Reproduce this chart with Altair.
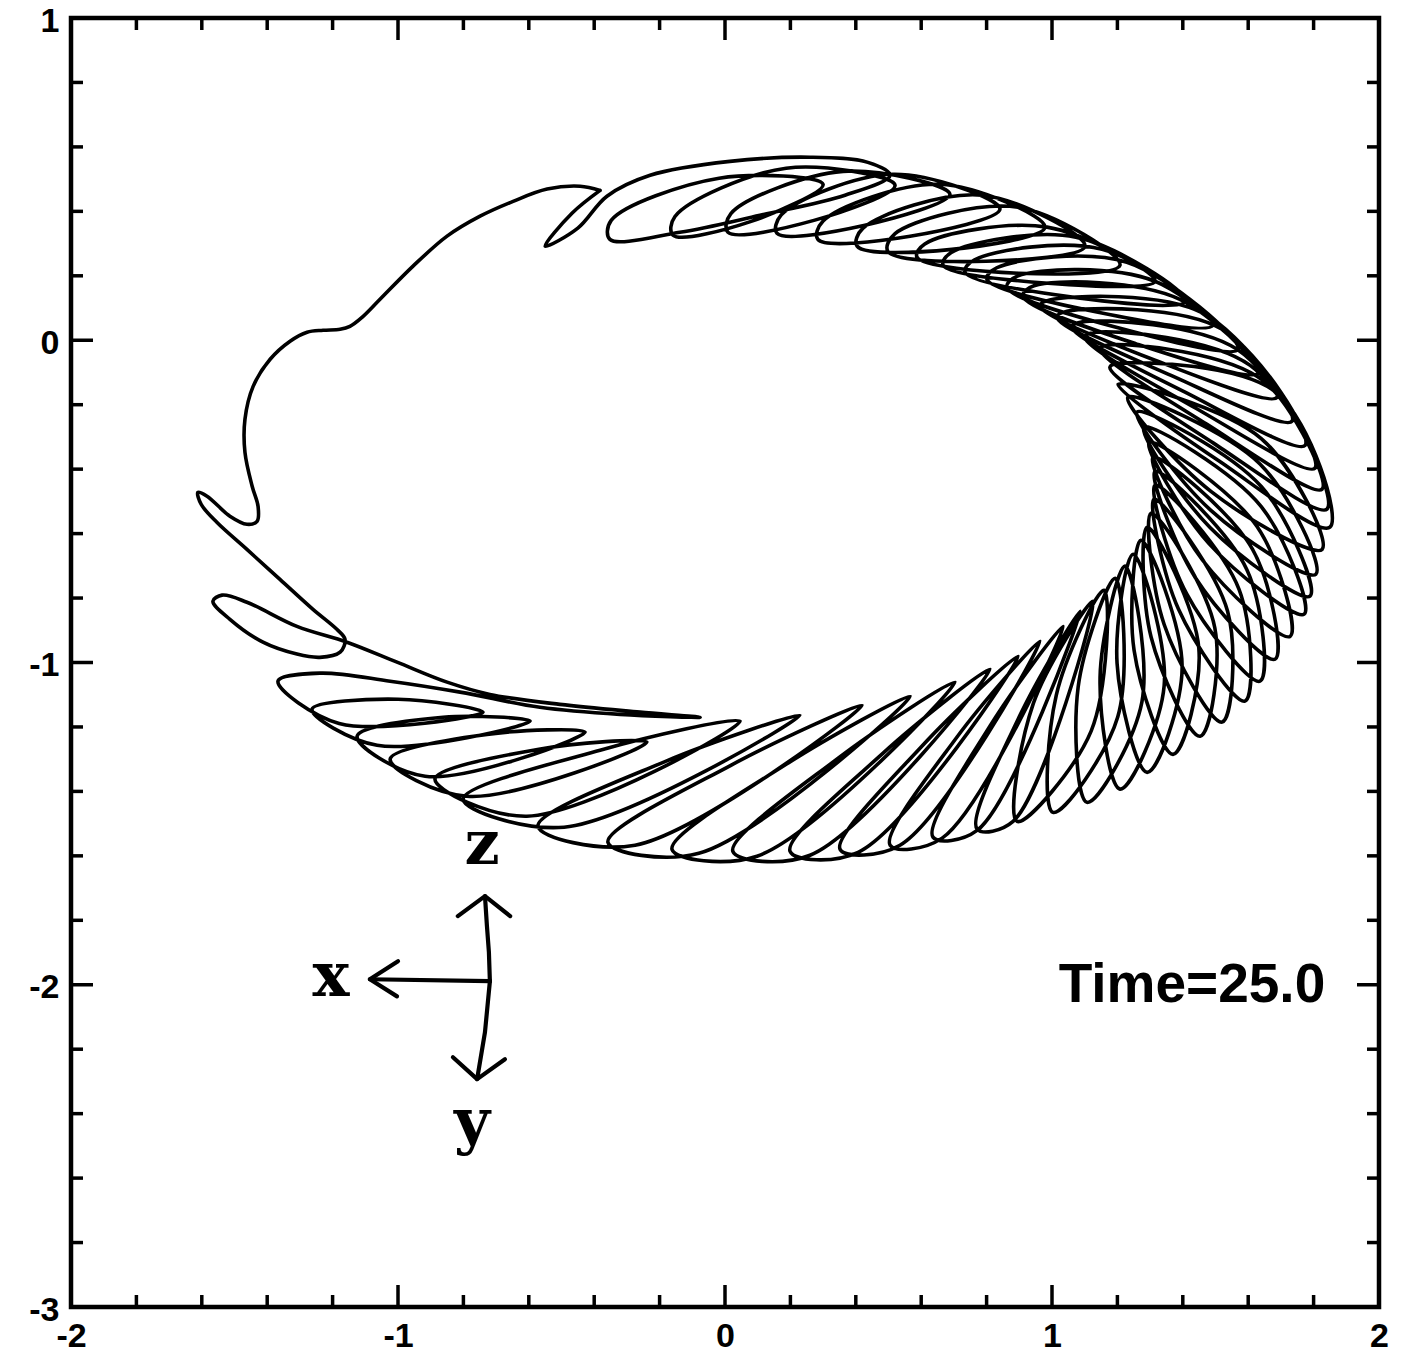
import altair as alt
import pandas as pd

# ---- filament projection at t = 25.0 -------------------------------------
# loose start of the filament (top left, small loop, first long sweep)
start_x = [-0.382, -0.468, -0.550, -0.450, -0.361, -0.229, 0.015, 0.260, 0.437, 0.505, 0.367, 0.107, -0.138]
start_y = [0.465, 0.394, 0.292, 0.348, 0.447, 0.512, 0.555, 0.568, 0.552, 0.512, 0.450, 0.388, 0.335]

# helical turns: inner cap -> (cap top) -> outer flank -> outer cap -> return flank
inner_x = [-0.352, -0.159, 0.009, 0.159, 0.284, 0.404, 0.498, 0.587, 0.667, 0.734,
           0.801, 0.862, 0.911, 0.963, 1.015, 1.061, 1.101, 1.147, 1.177, 1.202,
           1.232, 1.260, 1.281, 1.297, 1.309, 1.315, 1.315, 1.312, 1.303, 1.291,
           1.272, 1.248, 1.223, 1.193, 1.159, 1.125, 1.086, 1.034, 0.963, 0.896,
           0.810, 0.703, 0.566, 0.419, 0.229, 0.046, -0.239, -0.428, -0.596, -0.740]
inner_y = [0.313, 0.326, 0.335, 0.332, 0.313, 0.292, 0.276, 0.258, 0.233, 0.211,
           0.189, 0.164, 0.137, 0.106, 0.071, 0.040, 0.009, -0.028, -0.084, -0.137,
           -0.177, -0.223, -0.270, -0.317, -0.363, -0.407, -0.450, -0.493, -0.537, -0.580,
           -0.621, -0.664, -0.701, -0.739, -0.776, -0.810, -0.841, -0.888, -0.934, -0.981,
           -1.021, -1.061, -1.105, -1.133, -1.164, -1.182, -1.247, -1.216, -1.182, -1.154]

# tops of the rounded inner caps along the upper arc
cap_top_x = [-0.348, -0.153, 0.018, 0.172, 0.300, 0.422, 0.520, 0.611, 0.692, 0.762,
             0.831, 0.894, 0.945, 0.993, 1.046, 1.093, 1.133, 1.180, 1.211]
cap_top_y = [0.372, 0.384, 0.393, 0.389, 0.370, 0.348, 0.331, 0.299, 0.272, 0.249,
             0.225, 0.199, 0.169, 0.125, 0.090, 0.057, 0.025, -0.014, -0.071]

flank_x = [-0.018, 0.187, 0.361, 0.514, 0.657, 0.786, 0.896, 0.985, 1.073, 1.153,
           1.229, 1.315, 1.391, 1.462, 1.520, 1.566, 1.606, 1.648, 1.688, 1.640,
           1.636, 1.640, 1.638, 1.627, 1.613, 1.596, 1.572, 1.537, 1.498, 1.449,
           1.398, 1.343, 1.275, 1.201, 1.120, 0.881, 0.771, 0.664, 0.535, 0.407,
           0.260, 0.098, -0.080, -0.275, -0.492, -0.606, -0.789, -0.917, -1.064, -1.180]
flank_y = [0.503, 0.534, 0.524, 0.515, 0.484, 0.450, 0.413, 0.351, 0.320, 0.282,
           0.242, 0.183, 0.127, 0.084, 0.034, -0.028, -0.078, -0.127, -0.164, -0.305,
           -0.384, -0.454, -0.514, -0.578, -0.648, -0.712, -0.773, -0.841, -0.893, -0.955,
           -1.014, -1.072, -1.122, -1.169, -1.212, -1.493, -1.521, -1.545, -1.567, -1.589,
           -1.598, -1.601, -1.592, -1.567, -1.511, -1.477, -1.415, -1.353, -1.257, -1.189]

outer_x = [0.300, 0.520, 0.688, 0.841, 0.979, 1.101, 1.208, 1.315, 1.410, 1.492,
           1.569, 1.630, 1.688, 1.734, 1.774, 1.804, 1.826, 1.841, 1.850, 1.826,
           1.807, 1.789, 1.771, 1.728, 1.682, 1.636, 1.590, 1.520, 1.453, 1.370,
           1.291, 1.208, 1.107, 1.003, 0.893, 0.771, 0.636, 0.505, 0.352, 0.199,
           0.024, -0.162, -0.358, -0.572, -0.801, -0.887, -1.024, -1.125, -1.263, -1.367]
outer_y = [0.484, 0.481, 0.453, 0.407, 0.351, 0.292, 0.233, 0.183, 0.121, 0.047,
           -0.028, -0.102, -0.177, -0.251, -0.326, -0.397, -0.462, -0.524, -0.580, -0.649,
           -0.726, -0.794, -0.850, -0.919, -0.990, -1.058, -1.120, -1.185, -1.229, -1.285,
           -1.341, -1.393, -1.434, -1.465, -1.493, -1.517, -1.542, -1.567, -1.580, -1.586,
           -1.586, -1.580, -1.558, -1.508, -1.424, -1.362, -1.300, -1.229, -1.145, -1.058]

back_x = [0.080, 0.272, 0.428, 0.566, 0.694, 0.798, 0.896, 0.988, 1.067, 1.141,
          1.208, 1.260, 1.315, 1.364, 1.407, 1.440, 1.474, 1.495, 1.511, 1.486,
          1.485, 1.484, 1.480, 1.460, 1.438, 1.412, 1.387, 1.343, 1.303, 1.251,
          1.199, 1.147, 1.080, 1.013, 0.943, 0.902, 0.810, 0.709, 0.602, 0.486,
          0.346, 0.187, 0.018, -0.180, -0.382, -0.569, -0.728, -0.862, -1.000]
back_y = [0.369, 0.372, 0.357, 0.323, 0.282, 0.245, 0.208, 0.177, 0.133, 0.087,
          0.037, -0.012, -0.062, -0.109, -0.161, -0.211, -0.261, -0.320, -0.375, -0.469,
          -0.527, -0.582, -0.631, -0.682, -0.736, -0.787, -0.835, -0.882, -0.921, -0.962,
          -1.003, -1.045, -1.076, -1.102, -1.127, -1.164, -1.198, -1.232, -1.260, -1.279,
          -1.297, -1.316, -1.319, -1.306, -1.272, -1.269, -1.223, -1.170, -1.114]

# unwound part of the filament on the left, back to the start
tail_x = [-1.239, -1.024, -0.810, -0.566, -0.321, -0.076, -0.260, -0.505, -0.719, -0.850,
          -1.003, -1.156, -1.309, -1.462, -1.538, -1.566, -1.514, -1.413, -1.309, -1.239,
          -1.177, -1.162, -1.187, -1.260, -1.361, -1.462, -1.554, -1.602, -1.612, -1.584,
          -1.514, -1.462, -1.431, -1.428, -1.446, -1.468, -1.468, -1.443, -1.391, -1.330,
          -1.278, -1.229, -1.177, -1.147, -1.110, -1.055, -0.954, -0.850, -0.749, -0.648,
          -0.544, -0.443]
tail_y = [-1.033, -1.058, -1.092, -1.139, -1.161, -1.170, -1.154, -1.130, -1.099, -1.061,
          -0.999, -0.937, -0.888, -0.813, -0.791, -0.810, -0.866, -0.937, -0.974, -0.984,
          -0.968, -0.928, -0.897, -0.835, -0.742, -0.649, -0.565, -0.509, -0.472, -0.484,
          -0.546, -0.571, -0.562, -0.515, -0.453, -0.348, -0.245, -0.143, -0.059, -0.003,
          0.025, 0.031, 0.034, 0.043, 0.071, 0.127, 0.230, 0.323, 0.385, 0.431,
          0.469, 0.478]

# axis ticks
x_major = [-1, 0, 1]
x_minor = [-1.8, -1.6, -1.4, -1.2, -0.8, -0.6, -0.4, -0.2, 0.2, 0.4, 0.6, 0.8, 1.2, 1.4, 1.6, 1.8]
y_major = [-2, -1, 0]
y_minor = [-2.8, -2.6, -2.4, -2.2, -1.8, -1.6, -1.4, -1.2, -0.8, -0.6, -0.4, -0.2, 0.2, 0.4, 0.6, 0.8]
x_labels = [-2, -1, 0, 1, 2]
y_labels = [-3, -2, -1, 0, 1]

# coordinate-frame glyph (x, y, z arrows)
arrow_seg = [0, 0, 1, 1, 1, 2, 2, 2, 2, 3, 3, 3, 4, 4, 4, 5, 5, 5]
arrow_x = [-0.719, -1.086, -1.000, -1.086, -1.003,
           -0.719, -0.722, -0.728, -0.734, -0.817, -0.734, -0.657,
           -0.719, -0.734, -0.758, -0.832, -0.758, -0.673]
arrow_y = [-1.989, -1.983, -1.927, -1.983, -2.036,
           -1.989, -1.899, -1.818, -1.725, -1.787, -1.725, -1.787,
           -1.989, -2.147, -2.293, -2.225, -2.293, -2.231]
axis_names = ["x", "y", "z"]
axis_name_x = [-1.205, -0.774, -0.743]
axis_name_y = [-2.036, -2.489, -1.626]

time_label = "Time=25.0"
time_x = 1.428
time_y = -2.054

# ---- build the ordered path ------------------------------------------------
rows = []


def add(px, py):
    rows.append({"i": len(rows), "x": px, "y": py})


for a, b in zip(start_x, start_y):
    add(a, b)
for k in range(len(inner_x)):
    add(inner_x[k], inner_y[k])
    if k < len(cap_top_x):
        add(cap_top_x[k], cap_top_y[k])
    add(flank_x[k], flank_y[k])
    add(outer_x[k], outer_y[k])
    if k < len(back_x):
        add(back_x[k], back_y[k])
for a, b in zip(tail_x, tail_y):
    add(a, b)
add(start_x[0], start_y[0])
path = pd.DataFrame(rows)

W, H = 1308, 1289
MAJ, MIN = 22, 12

xs = alt.Scale(domain=[-2, 2], nice=False, zero=False)
ys = alt.Scale(domain=[-3, 1], nice=False, zero=False)
lab = dict(labelFont="Liberation Sans", labelFontWeight="bold", labelFontSize=34,
           labelColor="black", labelExpr="'' + datum.value", labelFlush=False,
           labelOverlap=False, ticks=False, domain=False, grid=False, title=None)
x_axis = alt.Axis(values=x_labels, labelPadding=12, **lab)
y_axis = alt.Axis(values=y_labels, labelPadding=12, labelOffset=3, **lab)


def X(f):
    return alt.X(f, type="quantitative", scale=xs, axis=x_axis)


def Y(f):
    return alt.Y(f, type="quantitative", scale=ys, axis=y_axis)


curve = alt.Chart(path).mark_line(
    interpolate="catmull-rom", color="black", strokeWidth=3.6,
    strokeJoin="round", strokeCap="round"
).encode(x=X("x"), y=Y("y"), order=alt.Order("i:Q"))

arrows = alt.Chart(pd.DataFrame({
    "seg": arrow_seg, "i": list(range(len(arrow_seg))), "x": arrow_x, "y": arrow_y
})).mark_line(color="black", strokeWidth=4.2, strokeJoin="round", strokeCap="round").encode(
    x=X("x"), y=Y("y"), detail="seg:N", order=alt.Order("i:Q"))

names = alt.Chart(pd.DataFrame({"x": axis_name_x, "y": axis_name_y, "t": axis_names})).mark_text(
    font="DejaVu Serif", fontWeight="bold", fontSize=62, color="black",
    align="center", baseline="alphabetic"
).encode(x=X("x"), y=Y("y"), text="t:N")

time_text = alt.Chart(pd.DataFrame({"x": [time_x], "y": [time_y], "t": [time_label]})).mark_text(
    font="Liberation Sans", fontWeight="bold", fontSize=55, color="black",
    align="center", baseline="alphabetic"
).encode(x=X("x"), y=Y("y"), text="t:N")


def xticks(vals, length):
    d = pd.DataFrame({"v": vals})
    bottom = alt.Chart(d).mark_rule(color="black", strokeWidth=3.5).encode(
        x=X("v"), y=alt.value(H), y2=alt.value(H - length))
    top = alt.Chart(d).mark_rule(color="black", strokeWidth=3.5).encode(
        x=X("v"), y=alt.value(0), y2=alt.value(length))
    return [bottom, top]


def yticks(vals, length):
    d = pd.DataFrame({"v": vals})
    left = alt.Chart(d).mark_rule(color="black", strokeWidth=3.5).encode(
        y=Y("v"), x=alt.value(0), x2=alt.value(length))
    right = alt.Chart(d).mark_rule(color="black", strokeWidth=3.5).encode(
        y=Y("v"), x=alt.value(W), x2=alt.value(W - length))
    return [left, right]


layers = [curve, arrows, names, time_text]
layers += xticks(x_major, MAJ) + xticks(x_minor, MIN)
layers += yticks(y_major, MAJ) + yticks(y_minor, MIN)

chart = alt.layer(*layers).properties(
    width=W, height=H,
    padding={"left": 71, "top": 18, "right": 23, "bottom": 60},
    autosize="none", background="white"
).configure_view(stroke="black", strokeWidth=4.5)

chart.save("out.html", embed_options={"renderer": "svg", "actions": False})
